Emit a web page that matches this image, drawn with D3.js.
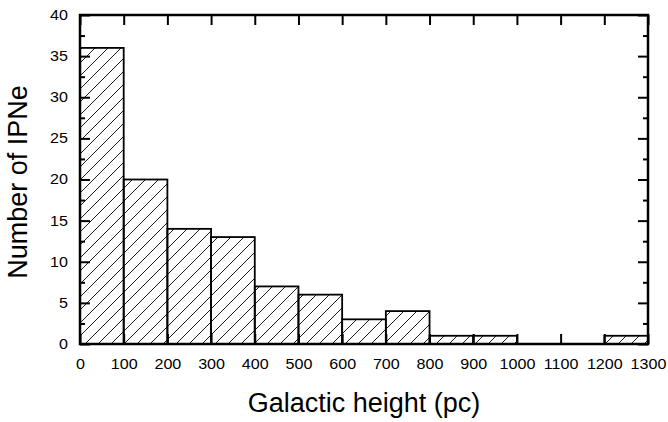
<!DOCTYPE html>
<html>
<head>
<meta charset="utf-8">
<script src="https://cdn.jsdelivr.net/npm/d3@7"></script>
<style>
  body { margin: 0; background: #fff; }
  text { font-family: "Liberation Sans", Arial, sans-serif; fill: #000; }
</style>
</head>
<body>
<script>
// bin edges (pc) and counts
var binStarts = [0, 100, 200, 300, 400, 500, 600, 700, 800, 900, 1000, 1100, 1200];
var counts = [36, 20, 14, 13, 7, 6, 3, 4, 1, 1, 0, 0, 1];
var xTicks = [0, 100, 200, 300, 400, 500, 600, 700, 800, 900, 1000, 1100, 1200, 1300];
var yTicks = [0, 5, 10, 15, 20, 25, 30, 35, 40];

const width = 668, height = 422;
const margin = {left: 80, right: 20, top: 15, bottom: 78};

var bins = binStarts.map(function(d, i) { return {x0: d, x1: d + 100, n: counts[i]}; });

const svg = d3.select("body").append("svg")
  .attr("width", width)
  .attr("height", height);

var defs = svg.append("defs");
defs.append("pattern")
  .attr("id", "hatch")
  .attr("patternUnits", "userSpaceOnUse")
  .attr("width", 13)
  .attr("height", 13)
  .append("path")
  .attr("d", "M-3,3 L3,-3 M0,13 L13,0 M10,16 L16,10")
  .attr("stroke", "#000")
  .attr("stroke-width", 0.9);

var x = d3.scaleLinear().domain([0, 1300]).range([margin.left, width - margin.right]);
var y = d3.scaleLinear().domain([0, 40]).range([height - margin.bottom, margin.top]);

// bars
svg.append("g")
  .selectAll("rect")
  .data(bins.filter(function(d) { return d.n > 0; }))
  .enter().append("rect")
  .attr("x", function(d) { return x(d.x0); })
  .attr("y", function(d) { return y(d.n); })
  .attr("width", function(d) { return x(d.x1) - x(d.x0); })
  .attr("height", function(d) { return y(0) - y(d.n); })
  .attr("fill", "url(#hatch)")
  .attr("stroke", "#000")
  .attr("stroke-width", 1.8);

// axes, ticks inward on all four sides
var yMinor = d3.range(2.5, 40, 5);

svg.append("g")
  .attr("transform", "translate(0," + y(0) + ")")
  .call(d3.axisBottom(x).tickValues(xTicks).tickSize(-10).tickPadding(15).tickFormat(d3.format("d")));
svg.append("g")
  .attr("transform", "translate(0," + y(40) + ")")
  .call(d3.axisTop(x).tickValues(xTicks).tickSize(-10).tickFormat(""));
svg.append("g")
  .attr("transform", "translate(" + x(0) + ",0)")
  .call(d3.axisLeft(y).tickValues(yTicks).tickSize(-10).tickPadding(10.5));
svg.append("g")
  .attr("transform", "translate(" + x(0) + ",0)")
  .call(d3.axisLeft(y).tickValues(yMinor).tickSize(-5).tickFormat(""));
svg.append("g")
  .attr("transform", "translate(" + x(1300) + ",0)")
  .call(d3.axisRight(y).tickValues(yTicks).tickSize(-10).tickFormat(""));
svg.append("g")
  .attr("transform", "translate(" + x(1300) + ",0)")
  .call(d3.axisRight(y).tickValues(yMinor).tickSize(-5).tickFormat(""));

svg.selectAll(".domain").remove();
svg.selectAll(".tick line").attr("stroke", "#000").attr("stroke-width", 2);
svg.selectAll(".tick text")
  .style("font-size", "14px")
  .attr("fill", "#000")
  .attr("transform", "scale(1.15,1)");

// frame
svg.append("rect")
  .attr("x", x(0))
  .attr("y", y(40))
  .attr("width", x(1300) - x(0))
  .attr("height", y(0) - y(40))
  .attr("fill", "none")
  .attr("stroke", "#000")
  .attr("stroke-width", 2.5);

// titles
svg.append("text")
  .attr("x", 364)
  .attr("y", 412)
  .attr("text-anchor", "middle")
  .style("font-size", "27px")
  .text("Galactic height (pc)");

svg.append("text")
  .attr("transform", "translate(27,182) rotate(-90)")
  .attr("text-anchor", "middle")
  .style("font-size", "27px")
  .text("Number of IPNe");
</script>
</body>
</html>
